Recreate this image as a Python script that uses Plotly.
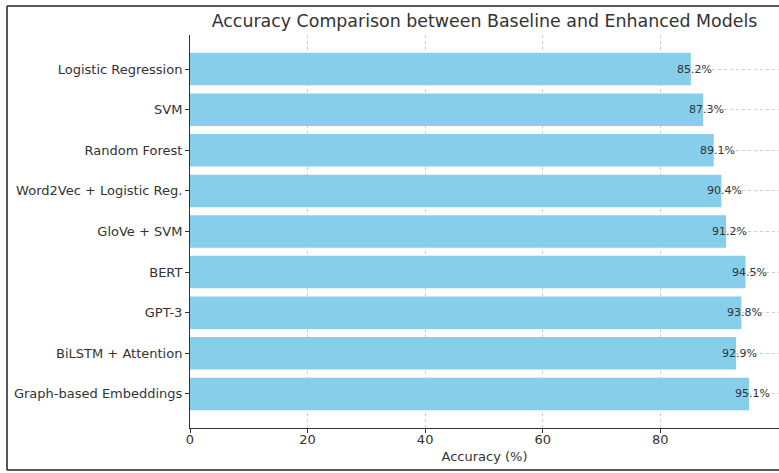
import plotly.graph_objects as go

models = ["Logistic Regression", "SVM", "Random Forest", "Word2Vec + Logistic Reg.",
          "GloVe + SVM", "BERT", "GPT-3", "BiLSTM + Attention", "Graph-based Embeddings"]
accuracy = [85.2, 87.3, 89.1, 90.4, 91.2, 94.5, 93.8, 92.9, 95.1]
x_ticks = [0, 20, 40, 60, 80]

W, H = 779, 473
L, R, T, B = 190, 0, 35, 45
pw, ph = W - L - R, H - T - B

fig = go.Figure()
fig.add_trace(go.Bar(
    x=accuracy, y=models, orientation="h", width=0.8,
    marker=dict(color="#87CEEB", line=dict(width=0)),
    hoverinfo="x+y",
))

for m, v in zip(models, accuracy):
    fig.add_annotation(x=v + 0.6, y=m, text=f"{v}%", showarrow=False,
                       xanchor="center", yanchor="middle",
                       font=dict(family="DejaVu Sans", size=11, color="#333333"))

fig.update_layout(
    width=W, height=H,
    margin=dict(l=L, r=R, t=T, b=B, pad=0),
    paper_bgcolor="white", plot_bgcolor="white",
    showlegend=False,
    font=dict(family="DejaVu Sans", color="#333333"),
    title=dict(text="Accuracy Comparison between Baseline and Enhanced Models",
               x=(L + pw / 2) / W, xanchor="center", y=1 - 21 / H, yanchor="middle",
               font=dict(family="DejaVu Sans", size=17.4, color="#333333")),
    xaxis=dict(range=[0, 100.2], tickvals=x_ticks, ticks="outside", ticklen=4,
               tickcolor="#333333", showline=True, linecolor="#333333", linewidth=1,
               showgrid=True, gridcolor="#cccccc", griddash="dot", gridwidth=1,
               zeroline=False, tickfont=dict(size=13, color="#333333"),
               ticklabelstandoff=-5,
               title=dict(text="Accuracy (%)", font=dict(size=13, color="#333333"), standoff=6)),
    yaxis=dict(type="category", categoryorder="array", categoryarray=models,
               range=[8.84, -0.84], ticks="outside", ticklen=4, tickcolor="#333333",
               showline=True, linecolor="#333333", linewidth=1,
               showgrid=True, gridcolor="#cccccc", griddash="dot", gridwidth=1,
               zeroline=False, tickfont=dict(size=13, color="#333333")),
)

# outer figure border: left, top, bottom (right edge lies beyond the visible canvas)
bx0 = (7 - L) / pw
bx1 = (W - L) / pw
by0 = (H - B - 470) / ph
by1 = (H - B - 6) / ph
border = dict(color="#222222", width=1.5)
for x0, y0, x1, y1 in [(bx0, by0, bx0, by1), (bx0, by1, bx1, by1), (bx0, by0, bx1, by0)]:
    fig.add_shape(type="line", xref="paper", yref="paper", x0=x0, y0=y0, x1=x1, y1=y1,
                  line=border, layer="above")

fig.write_html("out.html", config={"displayModeBar": False},
               post_script="document.body.style.margin='0';document.body.style.overflow='hidden';"
                           "document.documentElement.style.overflow='hidden';")
